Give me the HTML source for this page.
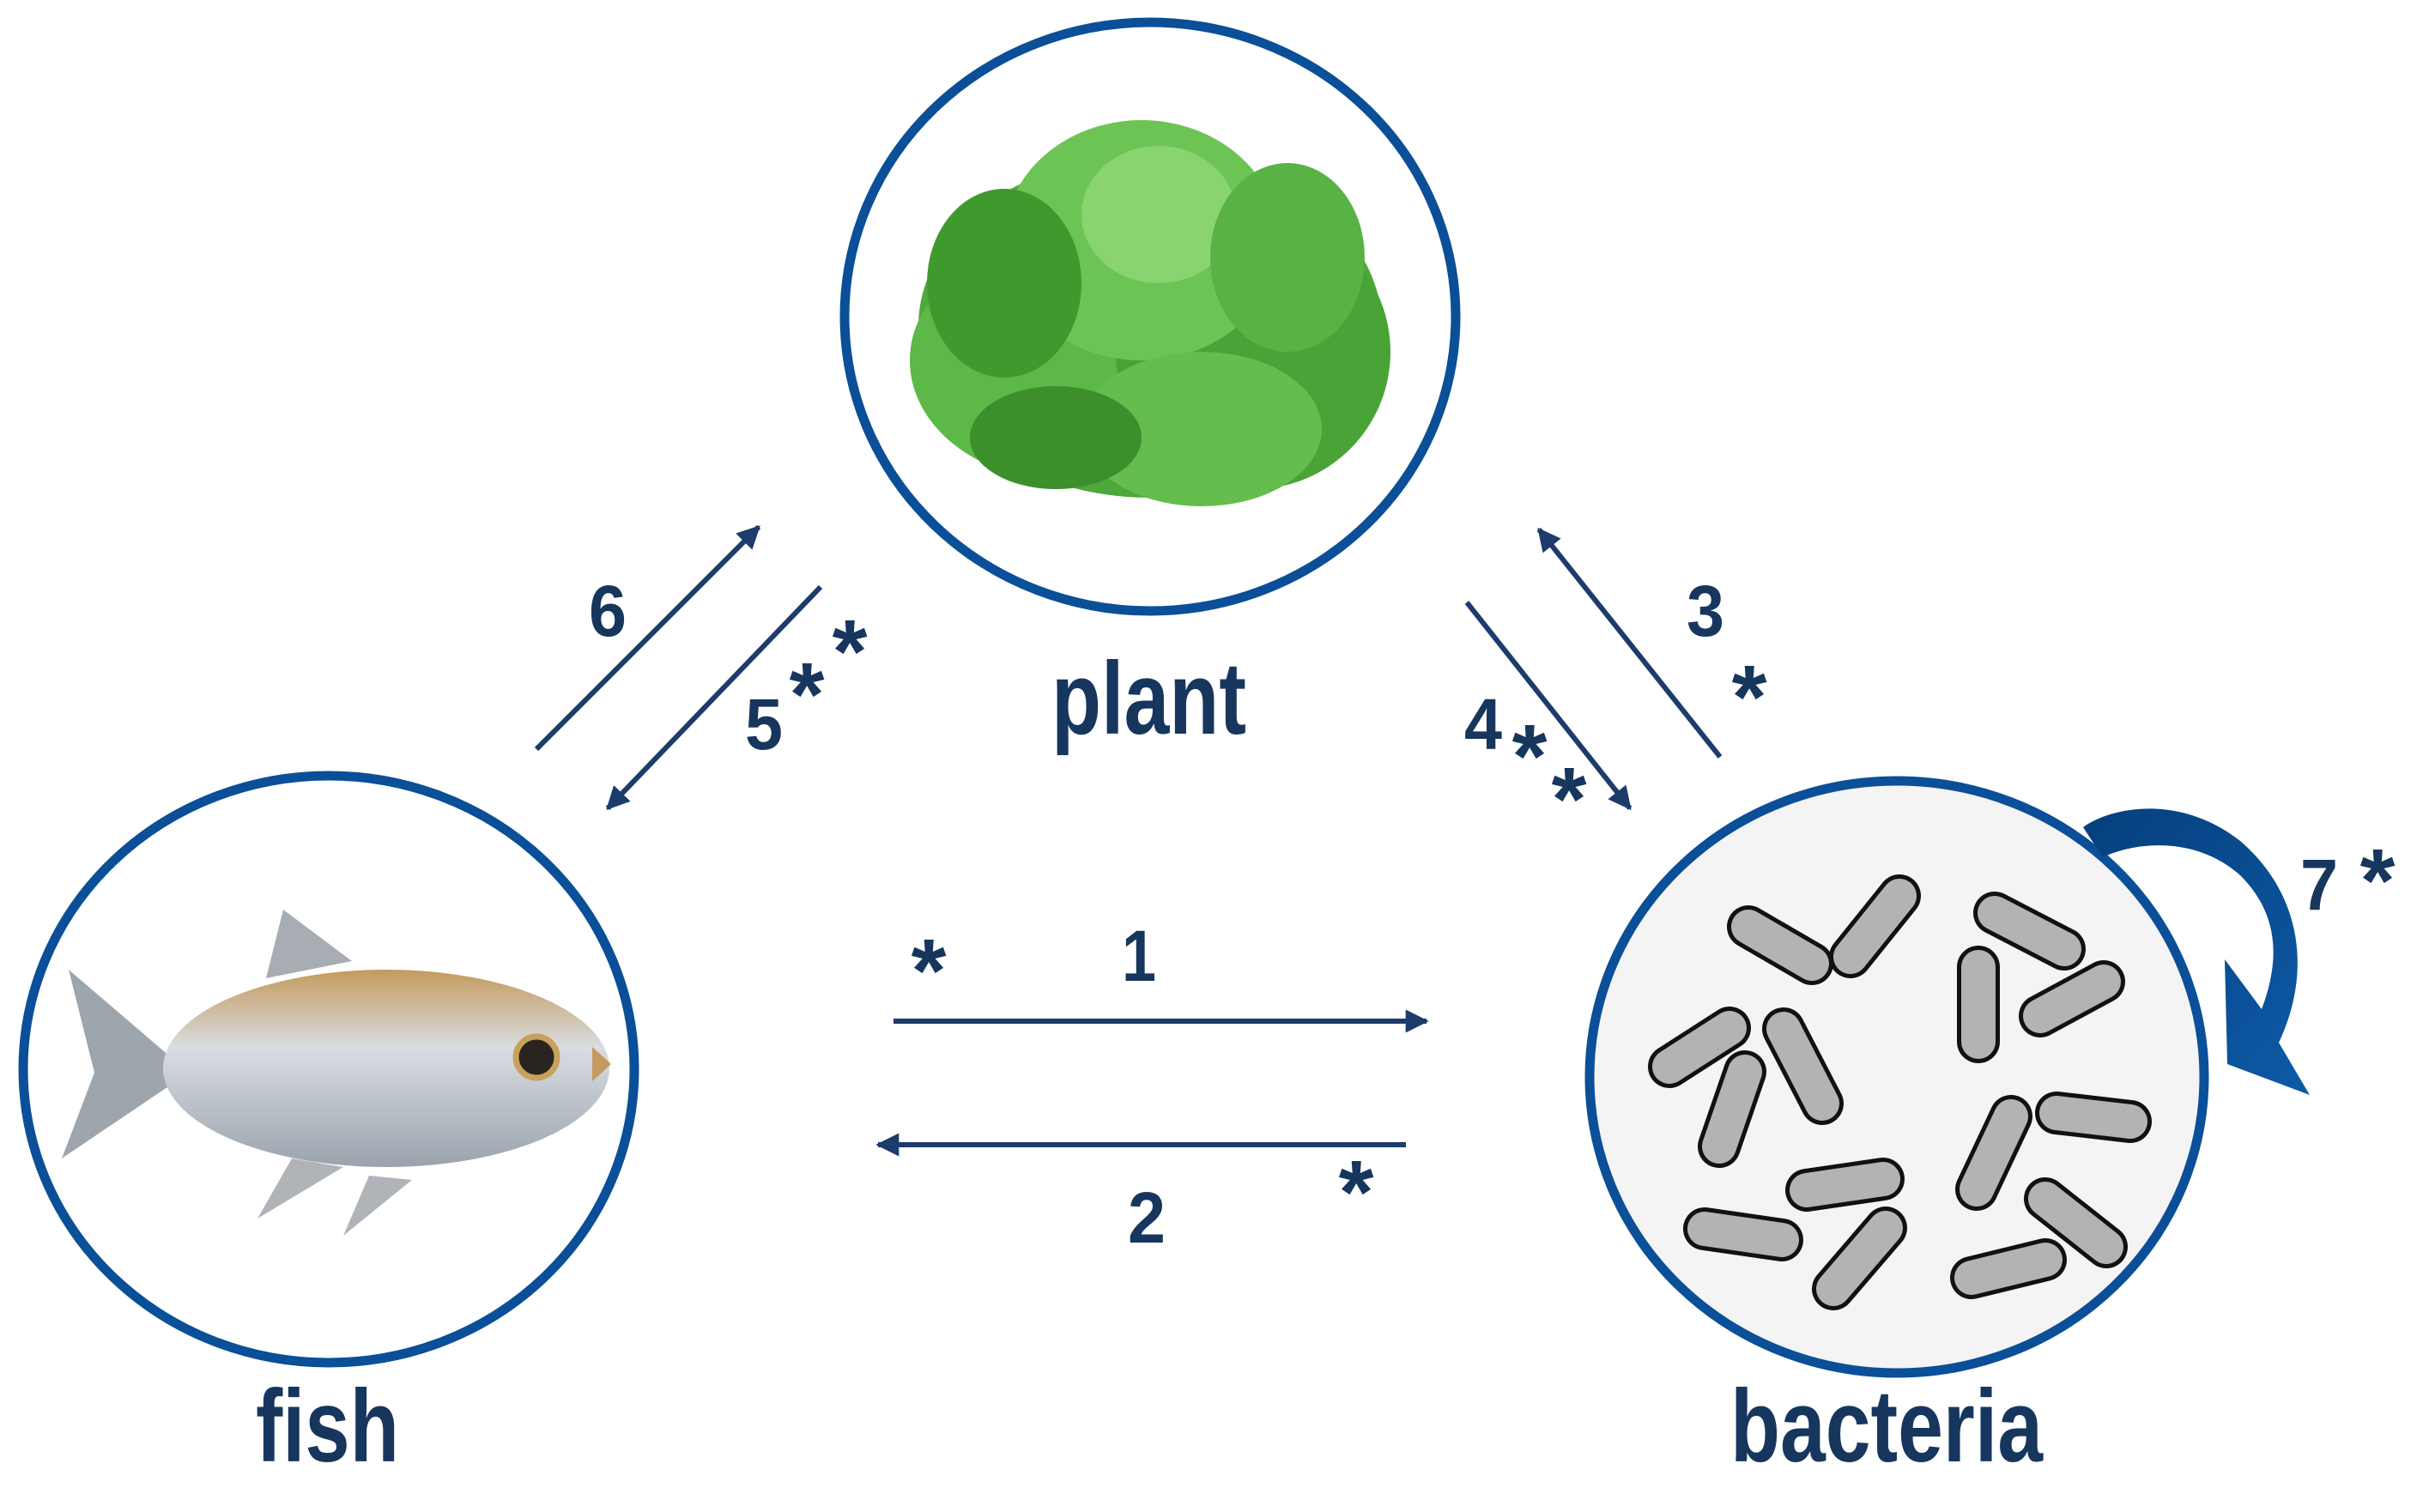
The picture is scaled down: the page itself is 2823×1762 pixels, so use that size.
<!DOCTYPE html>
<html><head><meta charset="utf-8"><style>html,body{margin:0;padding:0;background:#fff}svg{display:block}</style></head>
<body>
<svg width="2823" height="1762" viewBox="0 0 2823 1762" xmlns="http://www.w3.org/2000/svg" font-family="Liberation Sans, sans-serif" font-weight="bold">
<defs>
<marker id="ah" viewBox="0 0 10 10" refX="9" refY="5" markerWidth="4.5" markerHeight="4.5" orient="auto"><path d="M0,0 L10,5 L0,10 z" fill="#1c3c6b"/></marker>
<linearGradient id="fg" x1="0" y1="0" x2="0" y2="1"><stop offset="0" stop-color="#c49a5e"/><stop offset="0.4" stop-color="#d9dde2"/><stop offset="1" stop-color="#9aa3ad"/></linearGradient>
<linearGradient id="cg" x1="0" y1="0" x2="1" y2="1"><stop offset="0" stop-color="#063f7c"/><stop offset="1" stop-color="#0d5aa7"/></linearGradient>
</defs>
<ellipse cx="1340" cy="369" rx="356" ry="343" fill="#fff" stroke="#0a4f98" stroke-width="11"/>
<ellipse cx="383" cy="1246" rx="356" ry="342" fill="#fff" stroke="#0a4f98" stroke-width="11"/>
<ellipse cx="2210" cy="1255" rx="358" ry="345" fill="#f4f4f4" stroke="#0a4f98" stroke-width="11"/>
<g>
<ellipse cx="1340" cy="380" rx="270" ry="200" fill="#4fa83a"/>
<ellipse cx="1240" cy="420" rx="180" ry="140" fill="#5cb847"/>
<ellipse cx="1460" cy="410" rx="160" ry="160" fill="#4aa336"/>
<ellipse cx="1330" cy="280" rx="160" ry="140" fill="#6cc455"/>
<ellipse cx="1350" cy="250" rx="90" ry="80" fill="#8ad470"/>
<ellipse cx="1170" cy="330" rx="90" ry="110" fill="#3f9a2e"/>
<ellipse cx="1500" cy="300" rx="90" ry="110" fill="#58b244"/>
<ellipse cx="1400" cy="500" rx="140" ry="90" fill="#64bd4d"/>
<ellipse cx="1230" cy="510" rx="100" ry="60" fill="#3c8f2b"/>
</g>
<g>
<path d="M220,1250 L80,1130 L110,1250 L72,1350 Z" fill="#9ea6ad"/>
<path d="M310,1140 L330,1060 L410,1120 Z" fill="#a7adb2"/>
<path d="M340,1350 L300,1420 L400,1360 Z" fill="#b0b4b8"/>
<path d="M430,1370 L400,1440 L480,1375 Z" fill="#b0b4b8"/>
<ellipse cx="450" cy="1245" rx="260" ry="115" fill="url(#fg)"/>
<ellipse cx="625" cy="1232" rx="24" ry="24" fill="#2a2420" stroke="#c9a15c" stroke-width="7"/>
<path d="M690,1220 L712,1240 L690,1260 Z" fill="#c49a5e"/>
</g>
<g stroke-linecap="round">
<g stroke="#111" stroke-width="50">
<line x1="2037" y1="1080" x2="2111" y2="1123"/><line x1="2156" y1="1115" x2="2213" y2="1044"/>
<line x1="2324" y1="1064" x2="2405" y2="1106"/><line x1="2305" y1="1127" x2="2305" y2="1214"/>
<line x1="2377" y1="1184" x2="2451" y2="1144"/><line x1="1945" y1="1243" x2="2015" y2="1198"/>
<line x1="2078" y1="1199" x2="2123" y2="1286"/><line x1="2003" y1="1336" x2="2033" y2="1249"/>
<line x1="2396" y1="1297" x2="2482" y2="1307"/><line x1="2303" y1="1386" x2="2343" y2="1301"/>
<line x1="1986" y1="1432" x2="2076" y2="1445"/><line x1="2105" y1="1387" x2="2194" y2="1374"/>
<line x1="2136" y1="1502" x2="2197" y2="1431"/><line x1="2383" y1="1397" x2="2454" y2="1453"/>
<line x1="2297" y1="1489" x2="2383" y2="1468"/>
</g>
<g stroke="#b3b3b3" stroke-width="40">
<line x1="2037" y1="1080" x2="2111" y2="1123"/><line x1="2156" y1="1115" x2="2213" y2="1044"/>
<line x1="2324" y1="1064" x2="2405" y2="1106"/><line x1="2305" y1="1127" x2="2305" y2="1214"/>
<line x1="2377" y1="1184" x2="2451" y2="1144"/><line x1="1945" y1="1243" x2="2015" y2="1198"/>
<line x1="2078" y1="1199" x2="2123" y2="1286"/><line x1="2003" y1="1336" x2="2033" y2="1249"/>
<line x1="2396" y1="1297" x2="2482" y2="1307"/><line x1="2303" y1="1386" x2="2343" y2="1301"/>
<line x1="1986" y1="1432" x2="2076" y2="1445"/><line x1="2105" y1="1387" x2="2194" y2="1374"/>
<line x1="2136" y1="1502" x2="2197" y2="1431"/><line x1="2383" y1="1397" x2="2454" y2="1453"/>
<line x1="2297" y1="1489" x2="2383" y2="1468"/>
</g>
</g>
<path d="M2427,964 C2460,940 2540,925 2610,980 C2680,1040 2695,1130 2655,1215 L2691,1276 L2595,1240 L2592,1118 L2635,1176 C2660,1110 2650,1060 2610,1020 C2560,975 2490,980 2450,999 Z" fill="url(#cg)"/>
<g stroke="#1c3c6b" stroke-width="6" fill="none" marker-end="url(#ah)">
<line x1="625" y1="873" x2="884" y2="614"/>
<line x1="956" y1="684" x2="708" y2="942"/>
<line x1="2004" y1="882" x2="1793" y2="617"/>
<line x1="1709" y1="702" x2="1899" y2="942"/>
<line x1="1041" y1="1190" x2="1662" y2="1190"/>
<line x1="1638" y1="1334" x2="1023" y2="1334"/>
</g>
<g fill="#17365d" font-size="120">
<text x="1225" y="855" textLength="227" lengthAdjust="spacingAndGlyphs">plant</text>
<text x="298" y="1703" textLength="167" lengthAdjust="spacingAndGlyphs">fish</text>
<text x="2016" y="1703" textLength="364" lengthAdjust="spacingAndGlyphs">bacteria</text>
</g>
<g fill="#17365d" font-size="84">
<text x="686" y="741" textLength="44" lengthAdjust="spacingAndGlyphs">6</text>
<text x="868" y="873" textLength="44" lengthAdjust="spacingAndGlyphs">5</text>
<text x="1965" y="741" textLength="44" lengthAdjust="spacingAndGlyphs">3</text>
<text x="1706" y="873" textLength="44" lengthAdjust="spacingAndGlyphs">4</text>
<text x="1307" y="1143" textLength="40" lengthAdjust="spacingAndGlyphs">1</text>
<text x="1314" y="1448" textLength="44" lengthAdjust="spacingAndGlyphs">2</text>
<text x="2680" y="1060" textLength="44" lengthAdjust="spacingAndGlyphs">7</text>
</g>
<g fill="#17365d" font-size="105" text-anchor="middle">
<text x="940" y="845">*</text><text x="990" y="795">*</text>
<text x="2038" y="848">*</text>
<text x="1782" y="917">*</text><text x="1828" y="967">*</text>
<text x="1082" y="1167">*</text>
<text x="1580" y="1425">*</text>
<text x="2770" y="1062">*</text>
</g>
</svg>
</body></html>
